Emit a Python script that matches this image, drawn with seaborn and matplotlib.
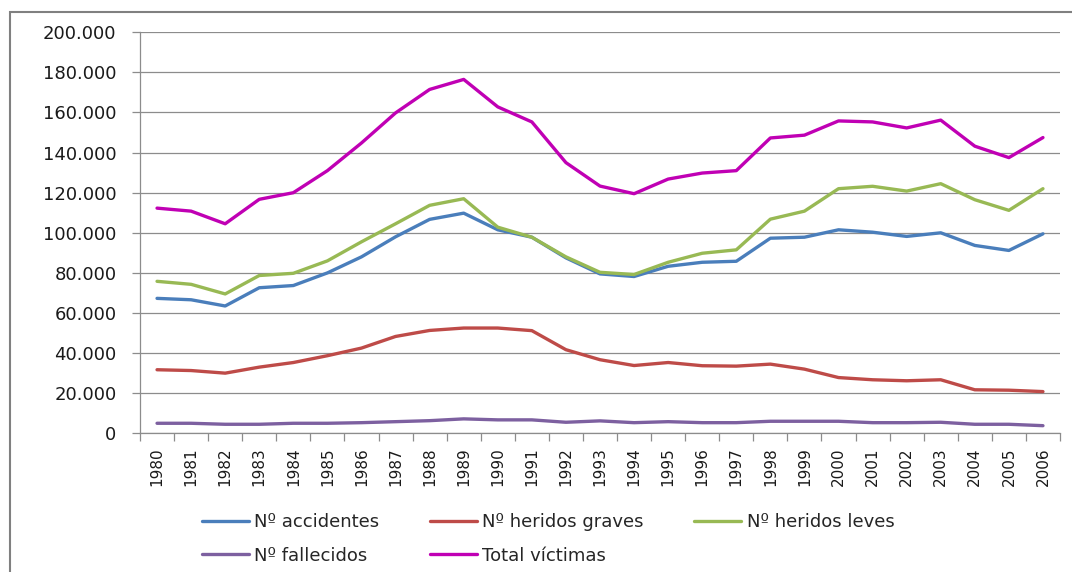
import pandas as pd
import matplotlib
matplotlib.use("Agg")
import matplotlib.pyplot as plt
import matplotlib.ticker as mticker
from matplotlib.patches import Rectangle
import seaborn as sns

# datos
years = list(range(1980, 2007))
accidentes = [67300, 66600, 63500, 72600, 73700, 80000, 88000, 98000, 106700, 109800,
              101500, 97800, 87500, 79500, 78200, 83300, 85300, 85800, 97300, 97800,
              101500, 100300, 98200, 100000, 93700, 91200, 99500]
graves = [31700, 31300, 30000, 33000, 35300, 38700, 42500, 48300, 51300, 52500,
          52500, 51200, 41700, 36700, 33800, 35300, 33700, 33500, 34500, 32000,
          27800, 26700, 26200, 26700, 21700, 21500, 20800]
leves = [75800, 74300, 69500, 78700, 79800, 86000, 95500, 104500, 113700, 117000,
         102800, 97800, 88000, 80300, 79200, 85300, 89800, 91500, 106800, 110800,
         122000, 123200, 120800, 124500, 116500, 111200, 122000]
fallecidos = [5000, 5000, 4500, 4500, 5000, 5000, 5300, 5800, 6300, 7200,
              6700, 6700, 5500, 6200, 5300, 5800, 5300, 5300, 6000, 6000,
              6000, 5300, 5300, 5500, 4500, 4500, 3800]
total = [112300, 110800, 104500, 116700, 120000, 131000, 144800, 159800, 171500, 176500,
         162800, 155300, 135000, 123300, 119500, 126800, 129800, 131000, 147300, 148700,
         155800, 155300, 152300, 156200, 143200, 137500, 147500]

series = ["Nº accidentes", "Nº heridos graves", "Nº heridos leves", "Nº fallecidos", "Total víctimas"]
colors = ["#4A7EBB", "#BE4B48", "#98B954", "#7D60A0", "#C000B4"]

df = pd.DataFrame({"año": years, series[0]: accidentes, series[1]: graves,
                   series[2]: leves, series[3]: fallecidos, series[4]: total})
long = df.melt(id_vars="año", var_name="serie", value_name="valor")

sns.set_theme(style="white")
plt.rcParams["font.family"] = ["DejaVu Sans"]

fig = plt.figure(figsize=(10.72, 5.72), dpi=100)
ax = fig.add_axes([140 / 1072, 1 - 433.3 / 572, 920 / 1072, 401 / 572])

sns.lineplot(data=long, x="año", y="valor", hue="serie", hue_order=series,
             palette=dict(zip(series, colors)), linewidth=2.4, legend=False, ax=ax)

ax.set_xlim(years[0] - 0.5, years[-1] + 0.5)
ax.set_ylim(0, 200000)
ax.set_xlabel("")
ax.set_ylabel("")

ax.yaxis.set_major_locator(mticker.MultipleLocator(20000))
ax.yaxis.set_major_formatter(mticker.FuncFormatter(lambda v, p: f"{int(v):,}".replace(",", ".")))
ax.grid(axis="y", color="#8c8c8c", linewidth=0.9)
ax.set_axisbelow(True)

ax.set_xticks(years)
ax.set_xticklabels([str(y) for y in years], rotation=90)
ax.set_xticks([y - 0.5 for y in years] + [years[-1] + 0.5], minor=True)
ax.tick_params(axis="x", which="major", length=0, pad=10, labelsize=11, colors="#1a1a1a")
ax.tick_params(axis="x", which="minor", length=6, width=0.9, color="#8c8c8c", direction="out")
ax.tick_params(axis="y", length=6, width=0.9, color="#8c8c8c", direction="out",
               labelsize=13, pad=11, labelcolor="#1a1a1a")
ax.tick_params(bottom=True, left=True, which="both")

for s in ["top", "right"]:
    ax.spines[s].set_visible(False)
for s in ["left", "bottom"]:
    ax.spines[s].set_color("#8c8c8c")
    ax.spines[s].set_linewidth(0.9)

# leyenda en filas: reordenar para ncol=3
lines = ax.get_lines()[:5]
order = [0, 3, 1, 4, 2]
fig.legend([lines[i] for i in order], [series[i] for i in order], ncol=3,
           loc="center", bbox_to_anchor=(548 / 1072, 1 - 539 / 572),
           frameon=False, fontsize=13, handlelength=2.6, handletextpad=0.3,
           columnspacing=2.8, labelspacing=0.85)

# marco exterior del grafico
fig.patches.append(Rectangle((10 / 1072, -0.1), 1.2, 1 - 12 / 572 + 0.1,
                             transform=fig.transFigure, fill=False,
                             edgecolor="#808080", linewidth=1.5))

fig.savefig("out.png", dpi=100)
